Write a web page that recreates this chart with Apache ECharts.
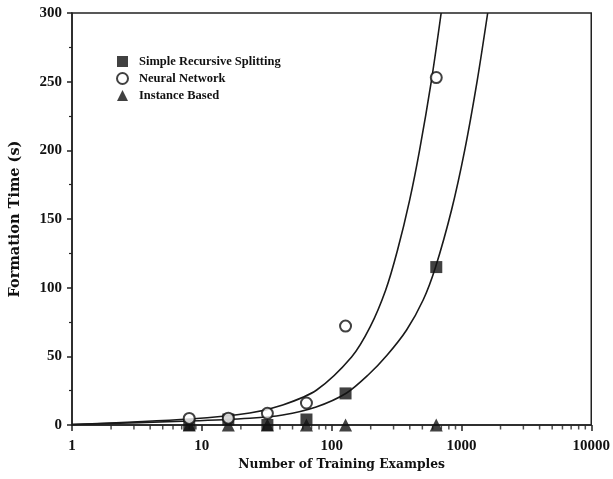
<!DOCTYPE html>
<html>
<head>
<meta charset="utf-8">
<script src="https://cdn.jsdelivr.net/npm/echarts@6/dist/echarts.min.js"></script>
<style>html,body{margin:0;padding:0;background:#fff;}#c{width:613px;height:479px;}</style>
</head>
<body>
<div id="c"></div>
<script>
// Training set sizes (x) and measured formation times (y)
const trainSizes = [8, 16, 32, 64, 128, 640];
const srsTimes = [0, 4, 0, 4, 23, 115];
const nnTimes = [4.8, 5, 8.5, 16, 72, 253];
const ibTimes = [0, 0, 0, 0, 0, 0];

// Fitted curves (x, y)
const nnCurveX = [1, 8.1, 23.4, 42, 76.7, 142.5, 198, 261, 322, 399, 476, 588, 698];
const nnCurveY = [0.4, 4.4, 8.7, 14.6, 25.5, 49.5, 71.4, 98.3, 127.4, 163.8, 200.2, 251.2, 300];
const srsCurveX = [1, 8.1, 23.4, 42, 76, 129.5, 191, 268, 378, 507, 632, 839, 1060, 1325, 1593];
const srsCurveY = [0.4, 2.9, 4.9, 7.3, 13.1, 23.1, 36.4, 51.0, 69.2, 91.0, 115.1, 156.6, 200.2, 251.2, 300];

// Axis labels / log minor tick values
const xTickLabels = ['1', '10', '100', '1000', '10000'];
const logMinorTicks = [2,3,4,5,6,7,8,9,20,30,40,50,60,70,80,90,200,300,400,500,600,700,800,900,2000,3000,4000,5000,6000,7000,8000,9000];

const seriesNames = ['Simple Recursive Splitting', 'Neural Network', 'Instance Based'];

const zip = (xs, ys) => xs.map((x, i) => [x, ys[i]]);

const chart = echarts.init(document.getElementById('c'));
const serif = 'Liberation Serif';
const wide = 'DejaVu Serif';
chart.setOption({
  animation: false,
  backgroundColor: '#fff',
  grid: {left: 72, right: 21, top: 13, bottom: 54, show: true, borderColor: '#222', borderWidth: 1.5},
  legend: {
    data: seriesNames,
    orient: 'vertical',
    left: 111, top: 50,
    itemWidth: 11, itemHeight: 11, itemGap: 4,
    textStyle: {fontFamily: serif, fontSize: 12.5, fontWeight: 'bold', color: '#111', padding: [0, 0, 0, 6]}
  },
  xAxis: {
    type: 'log', logBase: 10, min: 1, max: 10000,
    name: 'Number of Training Examples', nameLocation: 'middle', nameGap: 34,
    nameTextStyle: {fontFamily: wide, fontSize: 12.3, fontWeight: 'bold', color: '#111', padding: [0, 0, 0, 20]},
    axisLine: {show: true, lineStyle: {color: '#222', width: 1.5}},
    axisTick: {show: true, inside: false, length: 6, lineStyle: {color: '#222', width: 1.5}},
    axisLabel: {fontFamily: serif, fontSize: 15, fontWeight: 'bold', color: '#111', margin: 14,
      formatter: v => xTickLabels.includes(String(v)) ? String(v) : ''},
    splitLine: {show: false}
  },
  yAxis: {
    type: 'value', min: 0, max: 300, interval: 50,
    name: 'Formation Time (s)', nameLocation: 'middle', nameGap: 49,
    nameTextStyle: {fontFamily: wide, fontSize: 14.5, fontWeight: 'bold', color: '#111'},
    axisLine: {show: true, lineStyle: {color: '#222', width: 1.5}},
    axisTick: {show: true, inside: false, length: 5, lineStyle: {color: '#222', width: 1.5}},
    minorTick: {show: true, splitNumber: 2, length: 3, lineStyle: {color: '#222', width: 1.2}},
    axisLabel: {fontFamily: serif, fontSize: 15, fontWeight: 'bold', color: '#111', margin: 10},
    splitLine: {show: false}
  },
  series: [
    {name: 'nnCurve', type: 'line', data: zip(nnCurveX, nnCurveY), smooth: 0.3, showSymbol: false,
      lineStyle: {color: '#1a1a1a', width: 1.6}, silent: true, z: 2},
    {name: 'srsCurve', type: 'line', data: zip(srsCurveX, srsCurveY), smooth: 0.3, showSymbol: false,
      lineStyle: {color: '#1a1a1a', width: 1.6}, silent: true, z: 2},
    {name: 'minorTicks', type: 'scatter', data: logMinorTicks.map(v => [v, 0]), symbol: 'rect',
      symbolSize: [1.5, 4], symbolOffset: [0, 2.5], itemStyle: {color: '#222'}, silent: true, clip: false, z: 1},
    {name: seriesNames[2], type: 'scatter', data: zip(trainSizes, ibTimes), symbol: 'triangle', symbolSize: 13,
      itemStyle: {color: '#111'}, clip: false, z: 3},
    {name: seriesNames[0], type: 'scatter', data: zip(trainSizes, srsTimes), symbol: 'rect', symbolSize: 12,
      itemStyle: {color: '#111'}, clip: false, z: 4},
    {name: seriesNames[1], type: 'scatter', data: zip(trainSizes, nnTimes), symbol: 'circle', symbolSize: 11,
      itemStyle: {color: '#fff', borderColor: '#111', borderWidth: 2}, clip: false, z: 5}
  ]
});
</script>
</body>
</html>
